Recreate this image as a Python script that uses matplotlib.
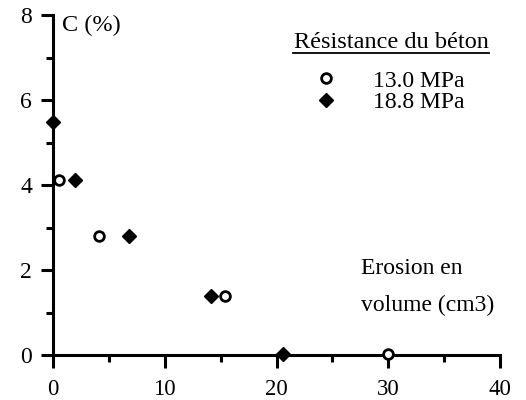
import matplotlib
matplotlib.use('Agg')
import matplotlib.pyplot as plt
from matplotlib.lines import Line2D

# data
x_13 = [0.5, 4.1, 15.4, 30.0]
y_13 = [4.12, 2.8, 1.38, 0.02]
x_18 = [0.0, 2.0, 6.8, 14.1, 20.6]
y_18 = [5.48, 4.12, 2.8, 1.38, 0.02]
labels = ['13.0 MPa', '18.8 MPa']
legend_title = 'Résistance du béton'
x_ticks = [0, 10, 20, 30, 40]
y_ticks = [0, 2, 4, 6, 8]

plt.rcParams['font.family'] = ['Liberation Serif', 'DejaVu Serif']

fig = plt.figure(figsize=(5.26, 4.0), dpi=100)
ax = fig.add_axes([0.1008, 0.1125, 0.8498, 0.85])

ax.plot(x_13, y_13, 'o', ms=7, mfc='white', mec='black', mew=2, clip_on=False, zorder=5)
ax.plot(x_18, y_18, 'D', ms=7.5, mfc='black', mec='black', clip_on=False, zorder=5)

ax.set_xlim(0, 40)
ax.set_ylim(0, 8)
ax.set_xticks(x_ticks)
ax.set_yticks(y_ticks)
ax.set_xticks([5, 15, 25, 35], minor=True)
ax.set_yticks([1, 3, 5, 7], minor=True)
for s in ['top', 'right']:
    ax.spines[s].set_visible(False)
for s in ['left', 'bottom']:
    ax.spines[s].set_linewidth(2.2)
ax.tick_params(which='major', direction='out', length=9, width=2.2, labelsize=17)
ax.tick_params(axis='x', which='major', pad=8.5, labelsize=16.5)
ax.tick_params(axis='y', which='major', pad=6)
ax.tick_params(which='minor', direction='out', length=5, width=2.2)

ax.text(0.02, 0.968, 'C (%)', transform=ax.transAxes, fontsize=17.5, va='center', ha='left')
fig.text(361 / 526, 1 - 268 / 400, 'Erosion en', fontsize=17, va='center', ha='left')
fig.text(361 / 526, 1 - 305 / 400, 'volume (cm3)', fontsize=17, va='center', ha='left')

# legend title with underline
fig.text(391 / 526, 1 - 42 / 400, legend_title, fontsize=17.5, ha='center', va='center')
fig.add_artist(Line2D([293 / 526, 489 / 526], [1 - 53 / 400, 1 - 53 / 400],
                      color='black', lw=1.3))

handles = [Line2D([], [], ls='', marker='o', ms=7, mfc='white', mec='black', mew=2),
           Line2D([], [], ls='', marker='D', ms=7.5, mfc='black', mec='black')]
fig.legend(handles, labels, loc='upper left', bbox_to_anchor=(314 / 526, 1 - 70 / 400),
           frameon=False, fontsize=17, handletextpad=1.5, labelspacing=0.0,
           borderpad=0, borderaxespad=0, handlelength=1.0)

fig.savefig('out.png', dpi=100)
